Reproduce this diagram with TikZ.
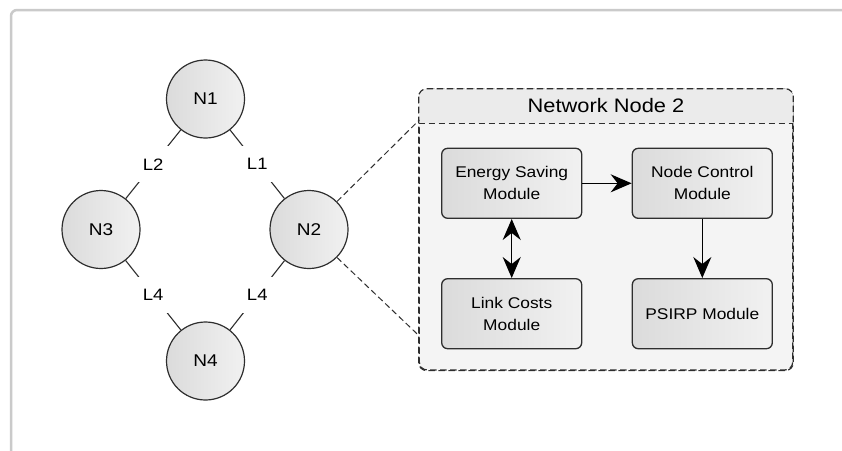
\documentclass[tikz,border=0pt]{standalone}
\usepackage{fontspec}
\setmainfont{Liberation Sans}[FakeStretch=1.12]
\usetikzlibrary{arrows.meta}
\definecolor{framegray}{HTML}{CACACA}
\definecolor{inkdark}{HTML}{2E2E2E}
\definecolor{bodyfill}{HTML}{F4F4F4}
\definecolor{headfill}{HTML}{EBEBEB}
\definecolor{shadeL}{HTML}{DBDBDB}
\definecolor{shadeR}{HTML}{F1F1F1}
\tikzset{
  netnode/.style={circle, draw=inkdark, line width=1.2pt, minimum size=78pt,
    inner sep=0pt, left color=shadeL, right color=shadeR,
    font=\fontsize{17}{19}\selectfont},
  linkline/.style={draw=inkdark, line width=1.1pt},
  linklabel/.style={fill=white, inner sep=0pt, minimum width=32pt,
    minimum height=36pt, font=\fontsize{16.5}{19}\selectfont},
  zoomline/.style={draw=inkdark, line width=1pt, dash pattern=on 6pt off 3.5pt},
  container/.style={draw=inkdark, line width=1.2pt, dash pattern=on 6.5pt off 3.5pt,
    rounded corners=8pt, inner sep=0pt},
  module/.style={draw=inkdark, line width=1.3pt, rounded corners=6pt,
    minimum width=140pt, minimum height=70pt, inner sep=0pt, align=center,
    left color=shadeL, right color=shadeR,
    font=\fontsize{15.5}{22}\selectfont},
  bigtip/.tip={Stealth[length=21pt, width=18pt, inset=7pt]},
  flow/.style={draw=black, line width=1.5pt, -bigtip},
  flowboth/.style={draw=black, line width=1.5pt, bigtip-bigtip},
}
\begin{document}
\begin{tikzpicture}[x=1pt, y=-1pt]
\useasboundingbox (0,0) rectangle (842,450);
\clip (0,0) rectangle (842,450);
\fill[white] (0,0) rectangle (842,450);

% surrounding panel frame (runs past the page edges)
\draw[framegray, line width=2.5pt, rounded corners=6pt]
  (11,470) -- (11,10) -- (870,10);

% ring of network nodes
\node[netnode] (n1) at (205.5,99) {N1};
\node[netnode] (n2) at (309,229.5) {N2};
\node[netnode] (n3) at (101,229.5) {N3};
\node[netnode] (n4) at (205.5,361) {N4};

\draw[linkline] (n1) -- node[linklabel] (l1) {L1} (n2);
\draw[linkline] (n1) -- node[linklabel] (l2) {L2} (n3);
\draw[linkline] (n3) -- node[linklabel] (l4a) {L4} (n4);
\draw[linkline] (n2) -- node[linklabel] (l4b) {L4} (n4);

% detail box for node 2
\node[container, fill=bodyfill, minimum width=373.4pt, minimum height=280.7pt]
  (box) at (606,229.65) {};
\begin{scope}
  \clip[rounded corners=8pt] (box.north west) rectangle (box.south east);
  \fill[headfill] (419.3,89.3) rectangle (792.7,123.3);
\end{scope}
\draw[container] (box.north west) rectangle (box.south east);
\draw[container, rounded corners=0pt] (box.west |- 0,123.3) -- (box.east |- 0,123.3);
\node[font=\fontsize{19.5}{22}\selectfont] (title) at (606,106) {Network Node 2};

\coordinate (zoomtop) at (419.3,120);
\coordinate (zoombot) at (419.3,336);
\draw[zoomline] (n2.45) -- (zoomtop);
\draw[zoomline] (n2.-45) -- (zoombot);

% modules inside the node
\node[module] (es) at (511.7,183.3) {Energy Saving\\Module};
\node[module] (nc) at (702.3,183.3) {Node Control\\Module};
\node[module] (lc) at (511.7,313.7) {Link Costs\\Module};
\node[module] (ps) at (702.3,313.7) {PSIRP Module};

\draw[flow] (es) -- (nc);
\draw[flowboth] (es) -- (lc);
\draw[flow] (nc) -- (ps);
\end{tikzpicture}
\end{document}
